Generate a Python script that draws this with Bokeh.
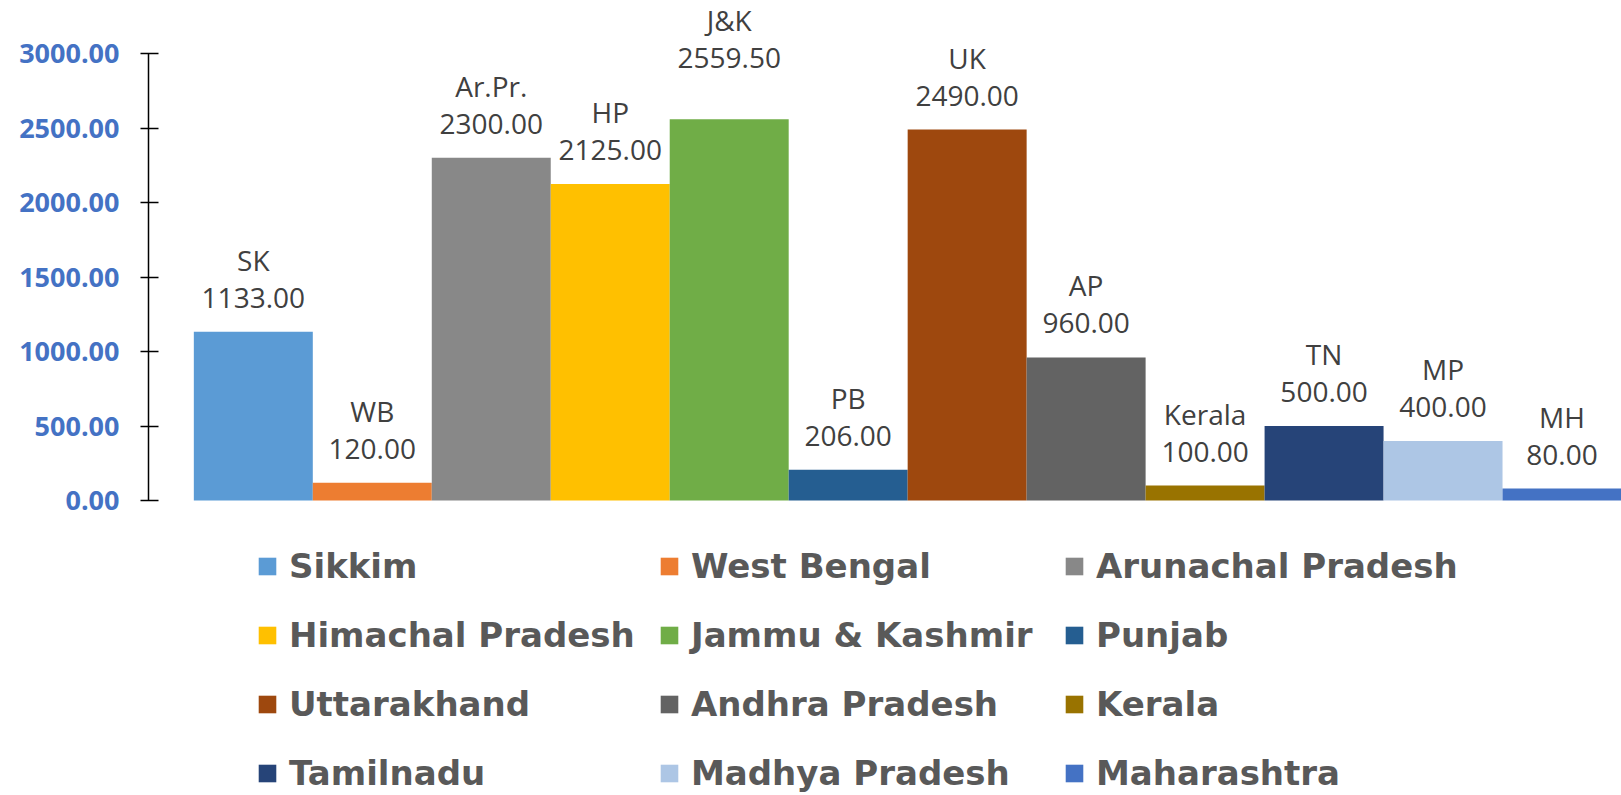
from bokeh.plotting import figure
from bokeh.models import (ColumnDataSource, Range1d, FixedTicker, NumeralTickFormatter,
                          Legend, LegendItem)
from bokeh.core.properties import value
from bokeh.embed import file_html
from bokeh.resources import INLINE

# ---- data ----
states = ["Sikkim", "West Bengal", "Arunachal Pradesh", "Himachal Pradesh",
          "Jammu & Kashmir", "Punjab", "Uttarakhand", "Andhra Pradesh",
          "Kerala", "Tamilnadu", "Madhya Pradesh", "Maharashtra"]
abbr = ["SK", "WB", "Ar.Pr.", "HP", "J&K", "PB", "UK", "AP", "Kerala", "TN", "MP", "MH"]
values = [1133.00, 120.00, 2300.00, 2125.00, 2559.50, 206.00, 2490.00, 960.00,
          100.00, 500.00, 400.00, 80.00]
y_ticks = [0, 500, 1000, 1500, 2000, 2500, 3000]

# ---- styles ----
colors = ["#5B9BD5", "#ED7D31", "#888888", "#FFC000", "#70AD47", "#255E91",
          "#9E480E", "#636363", "#997300", "#264478", "#ADC6E5", "#4472C4"]
label_lift = {"J&K": 27}

idx = list(range(len(states)))
lift = [label_lift.get(a, 0) for a in abbr]
src = ColumnDataSource(dict(
    x=idx, top=values, color=colors, abbr=abbr,
    num=["%.2f" % v for v in values],
    off_name=[-72 - l for l in lift],
    off_num=[-34 - l for l in lift],
))

p = figure(width=1621, height=795, output_backend="svg", toolbar_location=None,
           x_range=Range1d(-0.881, 11.5), y_range=Range1d(-1980, 3356),
           x_axis_location=None, min_border_left=148, min_border_right=0,
           min_border_top=0, min_border_bottom=0)
p.outline_line_color = None
p.xgrid.visible = False
p.ygrid.visible = False
p.background_fill_color = "white"
p.border_fill_color = "white"

bars = p.vbar(x="x", top="top", width=1.0, fill_color="color", line_color=None, source=src)

common = dict(x="x", y="top", text_align="center", text_baseline="alphabetic",
              text_font=value("Open Sans"), text_font_size="28px",
              text_color="#404040", source=src)
p.text(text="abbr", y_offset="off_name", **common)
p.text(text="num", y_offset="off_num", **common)

ax = p.yaxis[0]
ax.bounds = (0, 3000)
ax.ticker = FixedTicker(ticks=y_ticks)
ax.formatter = NumeralTickFormatter(format="0.00")
ax.axis_line_color = "black"
ax.axis_line_width = 1.5
ax.major_tick_line_color = "black"
ax.major_tick_line_width = 1.5
ax.major_tick_in = 10
ax.major_tick_out = 8
ax.minor_tick_line_color = None
ax.major_label_standoff = 21
ax.major_label_text_font = "Open Sans"
ax.major_label_text_font_style = "bold"
ax.major_label_text_font_size = "27px"
ax.major_label_text_color = "#4472C4"

# legend: three columns, filled row by row
col_x = [108, 510, 915]
for c in range(3):
    items = [LegendItem(label=states[i], renderers=[bars], index=i)
             for i in range(c, len(states), 3)]
    lg = Legend(items=items, location=(col_x[c], 0), orientation="vertical",
                glyph_width=22, glyph_height=22, label_height=44, label_standoff=11,
                spacing=25, padding=0, margin=0, border_line_color=None,
                background_fill_alpha=0,
                label_text_font="DejaVu Sans", label_text_font_style="bold",
                label_text_font_size="34px", label_text_color="#595959")
    p.add_layout(lg, "center")

open("out.html", "w").write(file_html(p, INLINE))
